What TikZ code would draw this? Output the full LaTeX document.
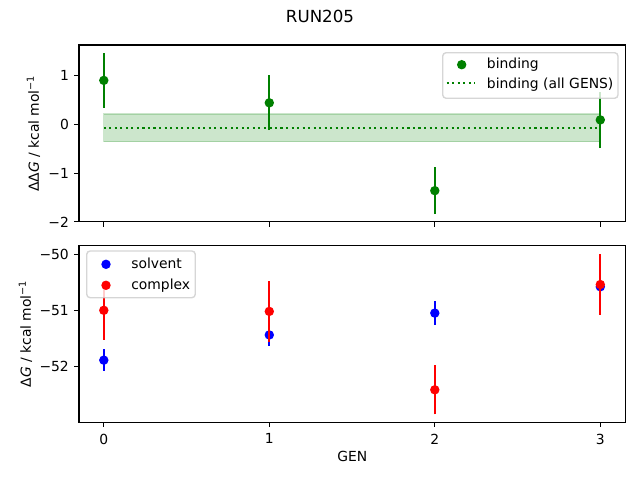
\documentclass[tikz,border=0pt]{standalone}
\usepackage{fontspec}
\setmainfont{DejaVu Sans}
\definecolor{mplgreen}{HTML}{008000}
\definecolor{mplblue}{HTML}{0000FF}
\definecolor{mplred}{HTML}{FF0000}
\definecolor{legendframe}{HTML}{CCCCCC}
\tikzset{
  spine/.style={line width=0.8pt},
  tickmark/.style={line width=0.8pt},
  ticklabel/.style={inner sep=0pt},
  errbar/.style={line width=1.5pt},
  dotline/.style={line width=1.5pt, dash pattern=on 1.5pt off 2.475pt},
  legendbox/.style={draw=legendframe, fill=white, fill opacity=0.8, draw opacity=0.8, rounded corners=2.5pt, line width=1pt},
  legendtext/.style={inner sep=0pt, anchor=base west}
}
\def\dotr{3.4pt}
\begin{document}
\begin{tikzpicture}[x=0.72pt, y=0.72pt, font=\fontsize{10}{12}\selectfont]
\useasboundingbox (0,0) rectangle (640,480);
\node[font=\fontsize{12}{14}\selectfont] (title) at (320,463.5) {RUN205};

% top panel: binding
\begin{scope}[shift={(103.8,355.7)}, x=119.16pt, y=35.136pt]
  \fill[mplgreen, opacity=0.2] (0,-0.357) rectangle (3,0.211);
  \draw[mplgreen, opacity=0.2, line width=1pt] (0,-0.357) rectangle (3,0.211);
  \draw[mplgreen, dotline] (0,-0.073) -- (3,-0.073);
  \foreach \g/\v/\e in {0/0.90/0.56, 1/0.44/0.56, 2/-1.36/0.48, 3/0.09/0.58} {
    \draw[mplgreen, errbar] (\g,{\v-\e}) -- (\g,{\v+\e});
    \fill[mplgreen] (\g,\v) circle (\dotr);
  }
  \draw[spine] (-0.15,-2) rectangle (3.15,1.625);
  \foreach \g in {0,...,3}
    \draw[tickmark] (\g,-2) -- ++(0,-3.5pt);
  \foreach \v/\t in {1/1, 0/0, -1/−1, -2/−2}
    \draw[tickmark] (-0.15,\v) -- ++(-3.5pt,0) node[ticklabel, left=3.4pt] {\t};
\end{scope}
\node[rotate=90, inner sep=0pt] (ddglabel) at (33.5,346.5) {ΔΔ\textit{G} / kcal mol\textsuperscript{−1}};

% top legend
\draw[legendbox] (442.7,381.7) rectangle (618,427.3);
\fill[mplgreen] (461.7,415.3) circle (\dotr);
\draw[mplgreen, dotline] (446.7,396.7) -- (475,396.7);
\node[legendtext] (legbinding) at (486.7,411) {binding};
\node[legendtext] (legall) at (486.7,391) {binding (all GENS)};

% bottom panel: solvent and complex
\begin{scope}[shift={(103.8,3025.7)}, x=119.16pt, y=40.32pt]
  \foreach \g/\v/\e in {0/-51.89/0.19, 1/-51.44/0.19, 2/-51.05/0.21, 3/-50.58/0.20} {
    \draw[mplblue, errbar] (\g,{\v-\e}) -- (\g,{\v+\e});
    \fill[mplblue] (\g,\v) circle (\dotr);
  }
  \foreach \g/\v/\e in {0/-51.00/0.53, 1/-51.02/0.55, 2/-52.42/0.44, 3/-50.54/0.54} {
    \draw[mplred, errbar] (\g,{\v-\e}) -- (\g,{\v+\e});
    \fill[mplred] (\g,\v) circle (\dotr);
  }
  \draw[spine] (-0.15,-53) rectangle (3.15,-49.84);
  \foreach \g in {0,...,3}
    \draw[tickmark] (\g,-53) -- ++(0,-3.5pt) node[ticklabel, below=4.4pt] {\g};
  \foreach \v/\t in {-50/−50, -51/−51, -52/−52}
    \draw[tickmark] (-0.15,\v) -- ++(-3.5pt,0) node[ticklabel, left=3.4pt] {\t};
\end{scope}
\node[rotate=90, inner sep=0pt] (dglabel) at (25.5,146.2) {Δ\textit{G} / kcal mol\textsuperscript{−1}};
\node[inner sep=0pt] (genlabel) at (352.3,23.3) {GEN};

% bottom legend
\draw[legendbox] (86.7,182.3) rectangle (195.3,229);
\fill[mplblue] (106,215.7) circle (\dotr);
\fill[mplred] (106,194.7) circle (\dotr);
\node[legendtext] (legsolvent) at (131,211.7) {solvent};
\node[legendtext] (legcomplex) at (131,190.7) {complex};
\end{tikzpicture}
\end{document}
